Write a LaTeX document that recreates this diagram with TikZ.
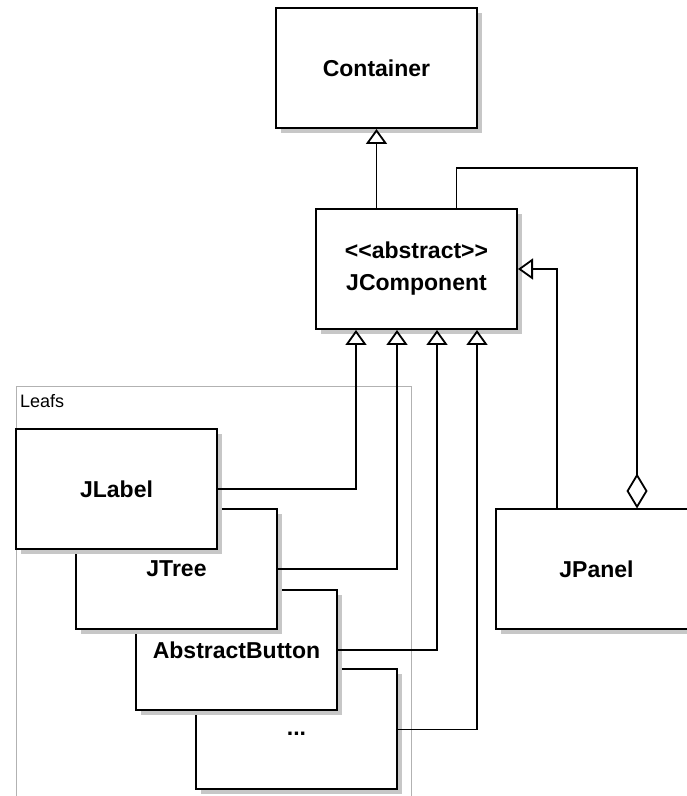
\documentclass[tikz,border=0pt]{standalone}
\usepackage{fontspec}
\setmainfont{Liberation Sans}
\usetikzlibrary{arrows.meta,shadows}
\tikzset{
  cls/.style={draw, line width=2pt, fill=white, minimum width=201pt,
    minimum height=120pt, align=center,
    font=\bfseries\fontsize{23}{32}\selectfont,
    drop shadow={shadow xshift=5pt, shadow yshift=-5pt, fill=black!22, opacity=1}},
  inh/.style={-{Triangle[open,width=21pt,length=15pt]}, line width=1.8pt},
  agg/.style={-{Diamond[open,width=21pt,length=35pt]}, line width=1.8pt},
  frame/.style={draw=black!30, line width=1pt}
}
\begin{document}
\begin{tikzpicture}[x=1pt,y=1pt]
      \useasboundingbox[fill=white] (0,0) rectangle (687,796);
      \draw[frame] (16,-20) -- (16,409) -- (411,409) -- (411,-20);
      \node[anchor=base west, inner sep=0pt, font=\fontsize{18}{20}\selectfont] (leafs) at (20,388) {Leafs};
      \node[cls] (container) at (376.5,728) {Container};
      \node[cls] (jcomp) at (416.5,527) {<{}<abstract>{}>\\JComponent};
      \node[cls] (dots) at (296.5,66.5) {\strut...};
      \node[cls] (abutton) at (236.5,146) {AbstractButton};
      \node[cls] (jtree) at (176.5,227) {JTree};
      \node[cls] (jlabel) at (116.5,307) {JLabel};
      \node[cls] (jpanel) at (596.5,226.5) {JPanel};
      \begin{scope}[line width=1.8pt]
        \draw[inh] (container.south |- jcomp.north) to (container.south);
        \draw[agg] ([xshift=40pt]jcomp.north) -- ++(0,40) -| ([xshift=40.5pt]jpanel.north);
        \draw[inh] ([xshift=-39.5pt]jpanel.north) |- (jcomp.east);
        \draw[inh] (jlabel.east) -| ([xshift=-60.5pt]jcomp.south);
        \draw[inh] (jtree.east) -| ([xshift=-19.5pt]jcomp.south);
        \draw[inh] (abutton.east) -| ([xshift=20.5pt]jcomp.south);
        \draw[inh] (dots.east) -| ([xshift=60.5pt]jcomp.south);
      \end{scope}
    \end{tikzpicture}
\end{document}
